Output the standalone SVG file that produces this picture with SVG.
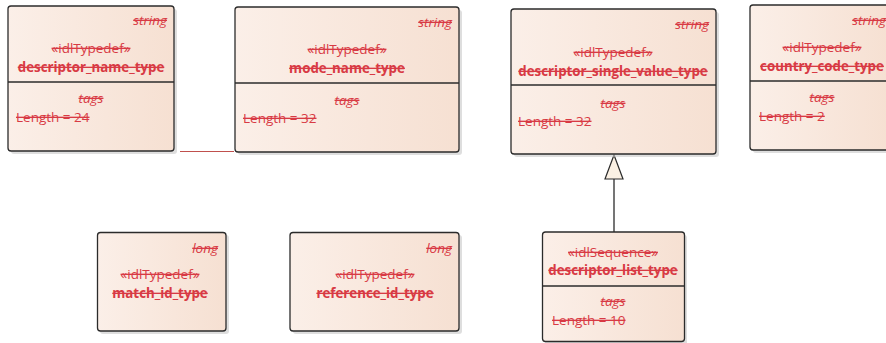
<svg xmlns="http://www.w3.org/2000/svg" width="886" height="343" viewBox="0 0 886 343">
<defs>
<linearGradient id="g" x1="0" y1="0" x2="1" y2="0">
<stop offset="0" stop-color="#fbefe8"/>
<stop offset="1" stop-color="#f6e0d2"/>
</linearGradient>
</defs>
<style>
.sh{fill:#c8c8c8;opacity:0.6}
.box{fill:url(#g);stroke:#2b2b2b;stroke-width:1.3}
.div{stroke:#2b2b2b;stroke-width:1.3}
text{font-family:"Open Sans","Liberation Sans",sans-serif;font-size:13.5px;fill:#d83a44;text-decoration:line-through}
.it{font-style:italic}
.b{font-weight:bold;font-size:13.3px}
.m{text-anchor:middle}
.r{text-anchor:end}
</style>
<g id="connectors">
<line x1="180" y1="151.5" x2="234" y2="151.5" stroke="#c0504d" stroke-width="1"/>
<line x1="614" y1="179" x2="614" y2="232" stroke="#2b2b2b" stroke-width="1.3"/>
<polygon points="614,155 605,179 623,179" fill="#fbf1e4" stroke="#2b2b2b" stroke-width="1.2"/>
</g>
<g id="descriptor_name_type">
<rect class="sh" x="11" y="9" width="166" height="145" rx="3"/>
<rect class="box" x="8" y="6" width="166" height="145" rx="3"/>
<line class="div" x1="8" y1="82" x2="174" y2="82"/>
<text class="it r" x="167" y="25">string</text>
<text class="m" x="91" y="53">«idlTypedef»</text>
<text class="b m" x="91" y="72">descriptor_name_type</text>
<text class="it m" x="91" y="103">tags</text>
<text x="16" y="122">Length = 24</text>
</g>
<g id="mode_name_type">
<rect class="sh" x="238" y="10" width="224" height="145" rx="3"/>
<rect class="box" x="235" y="7" width="224" height="145" rx="3"/>
<line class="div" x1="235" y1="83" x2="459" y2="83"/>
<text class="it r" x="452" y="27">string</text>
<text class="m" x="347" y="54">«idlTypedef»</text>
<text class="b m" x="347" y="73">mode_name_type</text>
<text class="it m" x="347" y="105">tags</text>
<text x="243" y="123">Length = 32</text>
</g>
<g id="descriptor_single_value_type">
<rect class="sh" x="514" y="12" width="205" height="145" rx="3"/>
<rect class="box" x="511" y="9" width="205" height="145" rx="3"/>
<line class="div" x1="511" y1="85" x2="716" y2="85"/>
<text class="it r" x="709" y="29">string</text>
<text class="m" x="613" y="57">«idlTypedef»</text>
<text class="b m" x="613" y="76">descriptor_single_value_type</text>
<text class="it m" x="613" y="108">tags</text>
<text x="518" y="126">Length = 32</text>
</g>
<g id="country_code_type">
<rect class="sh" x="753" y="8" width="140" height="145" rx="3"/>
<rect class="box" x="750" y="5" width="140" height="145" rx="3"/>
<line class="div" x1="750" y1="81" x2="890" y2="81"/>
<text class="it r" x="886" y="25">string</text>
<text class="m" x="822" y="52">«idlTypedef»</text>
<text class="b m" x="822" y="71">country_code_type</text>
<text class="it m" x="822" y="102">tags</text>
<text x="759" y="121">Length = 2</text>
</g>
<g id="match_id_type">
<rect class="sh" x="100" y="235" width="129" height="99" rx="3"/>
<rect class="box" x="97.5" y="232.5" width="128.5" height="98.5" rx="3"/>
<text class="it r" x="218" y="253">long</text>
<text class="m" x="160" y="279">«idlTypedef»</text>
<text class="b m" x="160" y="298">match_id_type</text>
</g>
<g id="reference_id_type">
<rect class="sh" x="293" y="235" width="169" height="99" rx="3"/>
<rect class="box" x="290" y="232.5" width="169" height="98.5" rx="3"/>
<text class="it r" x="452" y="253">long</text>
<text class="m" x="375" y="279">«idlTypedef»</text>
<text class="b m" x="375" y="298">reference_id_type</text>
</g>
<g id="descriptor_list_type">
<rect class="sh" x="545" y="235" width="142" height="110" rx="3"/>
<rect class="box" x="542.5" y="232" width="142" height="109.5" rx="3"/>
<line class="div" x1="542.5" y1="286" x2="684.5" y2="286"/>
<text class="m" x="613" y="257">«idlSequence»</text>
<text class="b m" x="613" y="275">descriptor_list_type</text>
<text class="it m" x="613" y="306">tags</text>
<text x="552" y="325">Length = 10</text>
</g>
</svg>
